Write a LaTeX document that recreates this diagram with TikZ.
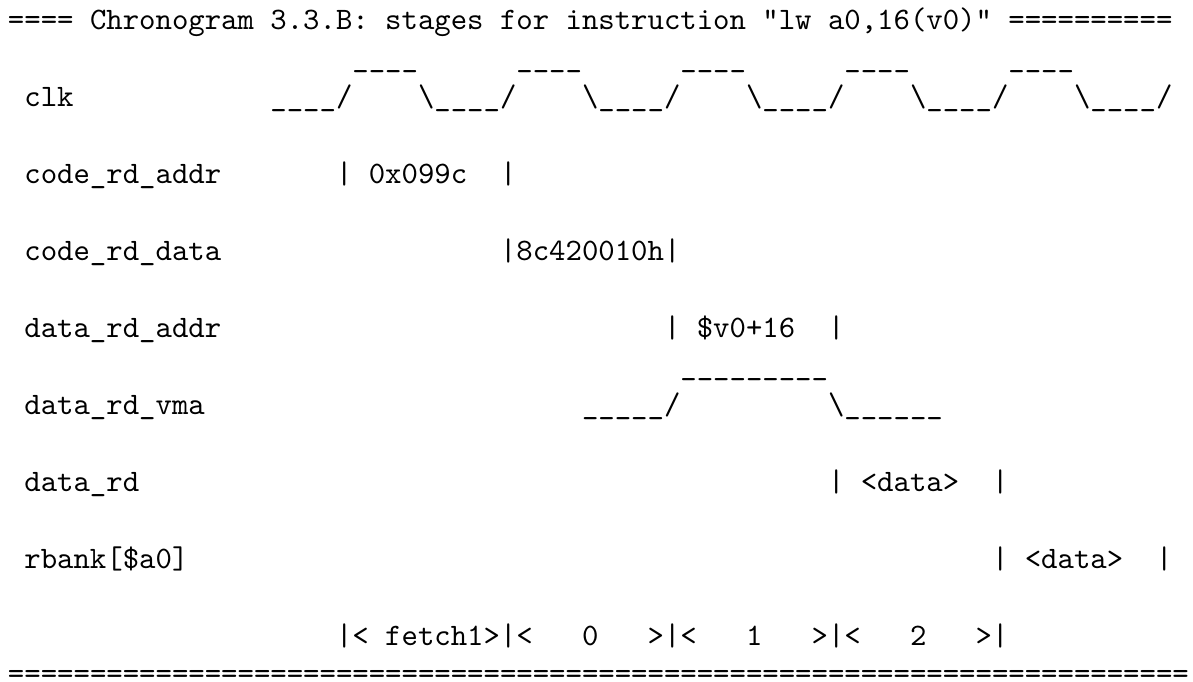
\documentclass[tikz,border=0pt]{standalone}
\begin{document}
% Timing chronogram typeset in a fixed-pitch font:
% one column = one character cell (5.25pt), one row = one text line.
\tikzset{
  mono/.style={anchor=base west, inner sep=0pt, outer sep=0pt,
               font=\fontsize{10}{12}\selectfont\ttfamily},
}
\begin{tikzpicture}[x=5.25pt, y=-12.325pt]
\useasboundingbox[fill=white] (-2.561pt,9.283pt) rectangle (379.34pt,-209.02pt);

% heading
\node[mono] (title) at (0,0) {==== Chronogram 3.3.B: stages for instruction "lw a0,16(v0)" ==========};

% clock
\node[mono] (clkhiA) at (21,1) {\_\_\_\_};
\node[mono] (clkhiB) at (31,1) {\_\_\_\_};
\node[mono] (clkhiC) at (41,1) {\_\_\_\_};
\node[mono] (clkhiD) at (51,1) {\_\_\_\_};
\node[mono] (clkhiE) at (61,1) {\_\_\_\_};
\node[mono] (clk)    at (1,2)  {clk};
\node[mono] (clkloA) at (16,2) {\_\_\_\_/};
\node[mono] (clkloB) at (25,2) {\textbackslash\_\_\_\_/};
\node[mono] (clkloC) at (35,2) {\textbackslash\_\_\_\_/};
\node[mono] (clkloD) at (45,2) {\textbackslash\_\_\_\_/};
\node[mono] (clkloE) at (55,2) {\textbackslash\_\_\_\_/};
\node[mono] (clkloF) at (65,2) {\textbackslash\_\_\_\_/};

% instruction fetch
\node[mono] (craddr)  at (1,4)  {code\_rd\_addr};
\node[mono] (craddrL) at (20,4) {|};
\node[mono] (craddrV) at (22,4) {0x099c};
\node[mono] (craddrR) at (30,4) {|};

\node[mono] (crdata)  at (1,6)  {code\_rd\_data};
\node[mono] (crdataV) at (30,6) {|8c420010h|};

% data read
\node[mono] (draddr)  at (1,8)  {data\_rd\_addr};
\node[mono] (draddrL) at (40,8) {|};
\node[mono] (draddrV) at (42,8) {\$v0+16};
\node[mono] (draddrR) at (50,8) {|};

\node[mono] (vmahi)   at (41,9)  {\_\_\_\_\_\_\_\_\_};
\node[mono] (vma)     at (1,10)  {data\_rd\_vma};
\node[mono] (vmarise) at (35,10) {\_\_\_\_\_/};
\node[mono] (vmafall) at (50,10) {\textbackslash\_\_\_\_\_\_};

\node[mono] (drd)  at (1,12)  {data\_rd};
\node[mono] (drdL) at (50,12) {|};
\node[mono] (drdV) at (52,12) {<data>};
\node[mono] (drdR) at (60,12) {|};

% register write-back
\node[mono] (rb)  at (1,14)  {rbank[\$a0]};
\node[mono] (rbL) at (60,14) {|};
\node[mono] (rbV) at (62,14) {<data>};
\node[mono] (rbR) at (70,14) {|};

% stage ruler
\node[mono] (stF)  at (20,16) {|< fetch1>|};
\node[mono] (st0a) at (31,16) {<};
\node[mono] (st0)  at (35,16) {0};
\node[mono] (st0b) at (39,16) {>|<};
\node[mono] (st1)  at (45,16) {1};
\node[mono] (st1b) at (49,16) {>|<};
\node[mono] (st2)  at (55,16) {2};
\node[mono] (st2b) at (59,16) {>|};

% closing rule
\node[mono] (rule) at (0,17) {========================================================================};
\end{tikzpicture}
\end{document}
